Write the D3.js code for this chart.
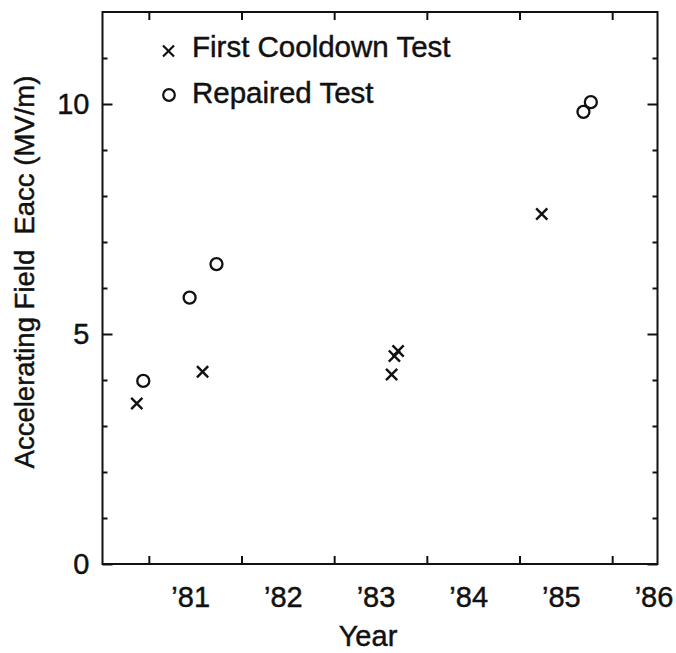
<!DOCTYPE html>
<html>
<head>
<meta charset="utf-8">
<script src="https://cdn.jsdelivr.net/npm/d3@7"></script>
<style>
  html, body { margin: 0; padding: 0; background: #fff; }
  svg { display: block; }
  text { font-family: "Liberation Sans", Arial, Helvetica, sans-serif; fill: #111; stroke: #111; stroke-width: 0.45px; }
</style>
</head>
<body>
<svg id="chart" width="676" height="653"></svg>
<script>
// ---- data ----
const firstCooldownYears  = [1980.37, 1981.08, 1983.12, 1983.15, 1983.19, 1984.74];
const firstCooldownValues = [3.49, 4.18, 4.12, 4.52, 4.63, 7.61];
const repairedYears  = [1980.44, 1980.94, 1981.23, 1985.19, 1985.27];
const repairedValues = [3.98, 5.79, 6.52, 9.83, 10.04];
const yearLabelValues = [1981, 1982, 1983, 1984, 1985, 1986];
const yearLabels = ["\u201981", "\u201982", "\u201983", "\u201984", "\u201985", "\u201986"];
const yearTickValues = [1980.5, 1981.5, 1982.5, 1983.5, 1984.5, 1985.5];
const yMajorTicks = [0, 5, 10];
const yMinorTicks = [1, 2, 3, 4, 6, 7, 8, 9, 11];
const seriesNames = ["First Cooldown Test", "Repaired Test"];

// ---- layout ----
const L = 102.5, R = 657.5, T = 12, B = 564;
const svg = d3.select("#chart");
const x = d3.scaleLinear().domain([1980, 1986]).range([L, 658.5]);
const y = d3.scaleLinear().domain([0, 12]).range([B, T]);

const ink = "#111";
const styleAxis = g => {
  g.select(".domain").remove();
  g.selectAll(".tick line").attr("stroke", ink).attr("stroke-width", 2);
};

// bottom ticks (inward)
svg.append("g").attr("transform", `translate(0,${B})`)
  .call(d3.axisBottom(x).tickValues(yearTickValues).tickSize(-8).tickFormat(""))
  .call(styleAxis);
// top ticks
svg.append("g").attr("transform", `translate(0,${T})`)
  .call(d3.axisTop(x).tickValues(yearTickValues).tickSize(-8).tickFormat(""))
  .call(styleAxis);
// bottom labels
const xl = svg.append("g").attr("transform", `translate(0,${B})`)
  .call(d3.axisBottom(x).tickValues(yearLabelValues).tickSize(0)
        .tickFormat((d, i) => yearLabels[i]))
  .call(styleAxis);
xl.selectAll("text").attr("y", 43).attr("dy", 0).attr("dx", -5)
  .style("font-size", "29px").attr("fill", ink);

// left ticks
svg.append("g").attr("transform", `translate(${L},0)`)
  .call(d3.axisLeft(y).tickValues(yMinorTicks).tickSize(-5).tickFormat(""))
  .call(styleAxis);
const yl = svg.append("g").attr("transform", `translate(${L},0)`)
  .call(d3.axisLeft(y).tickValues(yMajorTicks).tickSize(-10).tickPadding(13).tickFormat(d3.format("d")))
  .call(styleAxis);
yl.selectAll("text").style("font-size", "29px").attr("fill", ink).attr("dy", "0.34em");
// right ticks
svg.append("g").attr("transform", `translate(${R},0)`)
  .call(d3.axisRight(y).tickValues(yMinorTicks).tickSize(-5).tickFormat(""))
  .call(styleAxis);
svg.append("g").attr("transform", `translate(${R},0)`)
  .call(d3.axisRight(y).tickValues(yMajorTicks).tickSize(-10).tickFormat(""))
  .call(styleAxis);

// frame
svg.append("rect").attr("x", L).attr("y", T).attr("width", R - L).attr("height", B - T)
  .attr("fill", "none").attr("stroke", ink).attr("stroke-width", 2);

// axis titles
svg.append("text").attr("x", 368).attr("y", 646).attr("text-anchor", "middle")
  .style("font-size", "29px").text("Year");
svg.append("text").attr("transform", "translate(34,272) rotate(-90)")
  .attr("text-anchor", "middle").style("font-size", "27.5px").attr("xml:space", "preserve")
  .text("Accelerating Field  Eacc (MV/m)");

// markers
const crossPath = (cx, cy, s) => `M${cx - s},${cy - s}L${cx + s},${cy + s}M${cx - s},${cy + s}L${cx + s},${cy - s}`;
const firstData = firstCooldownYears.map((d, i) => ({ yr: d, v: firstCooldownValues[i] }));
const repData = repairedYears.map((d, i) => ({ yr: d, v: repairedValues[i] }));

svg.append("g").selectAll("path").data(firstData).join("path")
  .attr("d", d => crossPath(x(d.yr), y(d.v), 5.6))
  .attr("stroke", ink).attr("stroke-width", 2.4).attr("fill", "none");
svg.append("g").selectAll("circle").data(repData).join("circle")
  .attr("cx", d => x(d.yr)).attr("cy", d => y(d.v)).attr("r", 6)
  .attr("stroke", ink).attr("stroke-width", 2.3).attr("fill", "none");

// legend
const lg = svg.append("g");
lg.append("path").attr("d", crossPath(168.5, 51, 5.5))
  .attr("stroke", ink).attr("stroke-width", 2.2).attr("fill", "none");
lg.append("circle").attr("cx", 169).attr("cy", 95).attr("r", 5.8)
  .attr("stroke", ink).attr("stroke-width", 2.2).attr("fill", "none");
lg.append("text").attr("x", 192).attr("y", 57).style("font-size", "29.5px").text(seriesNames[0]);
lg.append("text").attr("x", 192).attr("y", 103).style("font-size", "29.5px").text(seriesNames[1]);
</script>
</body>
</html>
